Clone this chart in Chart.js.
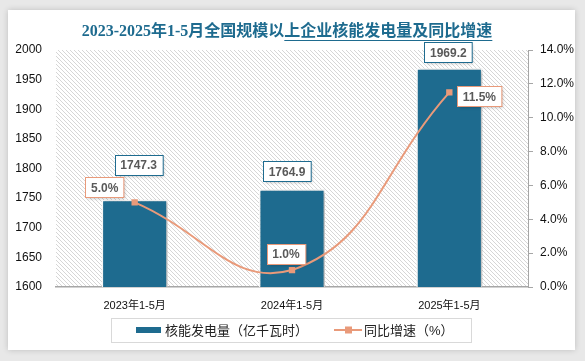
<!DOCTYPE html>
<html>
<head>
<meta charset="utf-8">
<script src="https://cdn.jsdelivr.net/npm/chart.js@4.4.1/dist/chart.umd.min.js"></script>
<style>
html, body { margin: 0; width: 585px; height: 361px; background: #e8e8e8; overflow: hidden; }
#card { position: absolute; left: 8px; top: 10px; width: 567px; height: 340px; background: #fff; box-shadow: 0 0 6px rgba(0,0,0,.18); }
#wrap { position: absolute; left: 0; top: 0; width: 585px; height: 361px; }
</style>
</head>
<body>
<div id="card"></div>
<div id="wrap"><canvas id="c"></canvas></div>
<script>
const titleText = '2023-2025年1-5月全国规模以上企业核能发电量及同比增速';
const categories = ['2023年1-5月', '2024年1-5月', '2025年1-5月'];
const outputValues = [1747.3, 1764.9, 1969.2];
const growthValues = [5.0, 1.0, 11.5];
const seriesNames = ['核能发电量（亿千瓦时）', '同比增速（%）'];

const BLUE = '#1e6b8f';
const ORANGE = '#e99a7a';
const SANS = '"Liberation Sans", "Noto Sans CJK SC", sans-serif';

// label box offsets, picked by eye so they don't overlap
const barLabelShift = [[4, -25], [-5, -8], [-1, -6]];
const pctLabelShift = [[-30, -15], [-6, -16], [30, 4]];

function hatch(ctx) {
    const c = document.createElement('canvas');
    c.width = 4; c.height = 4;
    const p = c.getContext('2d');
    p.strokeStyle = '#d6d6d6';
    p.lineWidth = 1;
    p.beginPath();
    p.moveTo(-1, -1); p.lineTo(5, 5);
    p.moveTo(3, -1); p.lineTo(5, 1);
    p.moveTo(-1, 3); p.lineTo(1, 5);
    p.stroke();
    return ctx.createPattern(c, 'repeat');
}

function labelBox(ctx, text, cx, cy, border) {
    ctx.font = 'bold 12px ' + SANS;
    const w = ctx.measureText(text).width + 11;
    const h = 20;
    const x = Math.round(cx - w / 2) + 0.5, y = Math.round(cy - h / 2) + 0.5;
    ctx.save();
    ctx.shadowColor = 'rgba(0,0,0,.25)';
    ctx.shadowBlur = 3;
    ctx.shadowOffsetX = 1;
    ctx.shadowOffsetY = 1;
    ctx.fillStyle = '#fff';
    ctx.fillRect(x, y, w, h);
    ctx.restore();
    ctx.strokeStyle = border;
    ctx.lineWidth = 1;
    ctx.strokeRect(x, y, w, h);
    ctx.fillStyle = '#595959';
    ctx.textAlign = 'center';
    ctx.textBaseline = 'middle';
    ctx.fillText(text, cx, cy + 1);
}

const decor = {
    id: 'decor',
    beforeDraw(chart) {
        const {ctx, chartArea: a} = chart;
        ctx.save();
        ctx.fillStyle = hatch(ctx);
        ctx.fillRect(a.left, a.top, a.right - a.left, a.bottom - a.top);
        ctx.restore();
    },
    beforeDatasetDraw(chart, args) {
        if (args.index !== 0) return;
        const ctx = chart.ctx;
        ctx.save();
        ctx.shadowColor = 'rgba(0,0,0,.3)';
        ctx.shadowBlur = 4;
        ctx.shadowOffsetX = 2;
        ctx.shadowOffsetY = 1;
    },
    afterDatasetDraw(chart, args) {
        if (args.index !== 0) return;
        chart.ctx.restore();
    },
    afterDraw(chart) {
        const ctx = chart.ctx;
        ctx.save();

        // title
        ctx.font = 'bold 16px "Liberation Serif", "Noto Sans CJK SC", serif';
        ctx.fillStyle = BLUE;
        ctx.textAlign = 'center';
        ctx.textBaseline = 'middle';
        const cx = 287;
        ctx.fillText(titleText, cx, 32);
        const tw = ctx.measureText(titleText).width;
        const pre = ctx.measureText(titleText.slice(0, titleText.indexOf('上'))).width;
        ctx.strokeStyle = BLUE;
        ctx.lineWidth = 1;
        ctx.beginPath();
        ctx.moveTo(cx - tw / 2 + pre, 40.5);
        ctx.lineTo(cx + tw / 2, 40.5);
        ctx.stroke();

        // data labels
        chart.getDatasetMeta(0).data.forEach((bar, i) => {
            const [dx, dy] = barLabelShift[i];
            labelBox(ctx, outputValues[i].toFixed(1), bar.x + dx, bar.y + dy - 10, BLUE);
        });
        chart.getDatasetMeta(1).data.forEach((pt, i) => {
            const [dx, dy] = pctLabelShift[i];
            labelBox(ctx, growthValues[i].toFixed(1) + '%', pt.x + dx, pt.y + dy, ORANGE);
        });

        // legend
        ctx.strokeStyle = '#d9d9d9';
        ctx.strokeRect(111.5, 318.5, 360, 24);
        ctx.fillStyle = BLUE;
        ctx.fillRect(136, 327, 25, 6);
        ctx.font = '13px ' + SANS;
        ctx.fillStyle = '#222';
        ctx.textAlign = 'left';
        ctx.fillText(seriesNames[0], 165, 331);
        ctx.strokeStyle = ORANGE;
        ctx.lineWidth = 2;
        ctx.beginPath();
        ctx.moveTo(334, 330);
        ctx.lineTo(362, 330);
        ctx.stroke();
        ctx.fillStyle = ORANGE;
        ctx.fillRect(345, 326.5, 7, 7);
        ctx.fillStyle = '#222';
        ctx.fillText(seriesNames[1], 364, 331);
        ctx.restore();
    }
};

new Chart(document.getElementById('c'), {
    data: {
        labels: categories,
        datasets: [
            {
                type: 'bar',
                label: seriesNames[0],
                data: outputValues,
                yAxisID: 'y',
                backgroundColor: BLUE,
                borderColor: '#fff',
                borderWidth: 1.5,
                barPercentage: 0.84,
                categoryPercentage: 0.5,
                order: 2
            },
            {
                type: 'line',
                label: seriesNames[1],
                data: growthValues,
                yAxisID: 'y1',
                borderColor: ORANGE,
                backgroundColor: ORANGE,
                borderWidth: 2,
                tension: 0.45,
                pointStyle: 'rect',
                pointRadius: 4.5,
                pointBorderWidth: 0,
                order: 1
            }
        ]
    },
    options: {
        responsive: true,
        maintainAspectRatio: false,
        animation: false,
        layout: {padding: {top: 50, left: 0, right: 0, bottom: 44}},
        plugins: {
            legend: {display: false},
            title: {display: false},
            tooltip: {enabled: false}
        },
        scales: {
            x: {
                grid: {display: false},
                border: {color: '#a6a6a6', width: 1.5},
                ticks: {color: '#111', font: {size: 11, family: SANS}, padding: 4},
                afterFit(s) { s.height = 30; }
            },
            y: {
                position: 'left',
                min: 1600,
                max: 2000,
                ticks: {stepSize: 50, color: '#111', font: {size: 12, family: SANS}, padding: 6,
                    callback: v => String(v)},
                grid: {display: false},
                border: {display: false},
                afterFit(s) { s.width = 56; }
            },
            y1: {
                position: 'right',
                min: 0,
                max: 14,
                ticks: {stepSize: 2, color: '#111', font: {size: 12, family: SANS}, padding: 7,
                    callback: v => v.toFixed(1) + '%'},
                grid: {drawOnChartArea: false, color: '#a6a6a6', tickLength: 5},
                border: {color: '#a6a6a6'},
                afterFit(s) { s.width = 57; }
            }
        }
    },
    plugins: [decor]
});
</script>
</body>
</html>
